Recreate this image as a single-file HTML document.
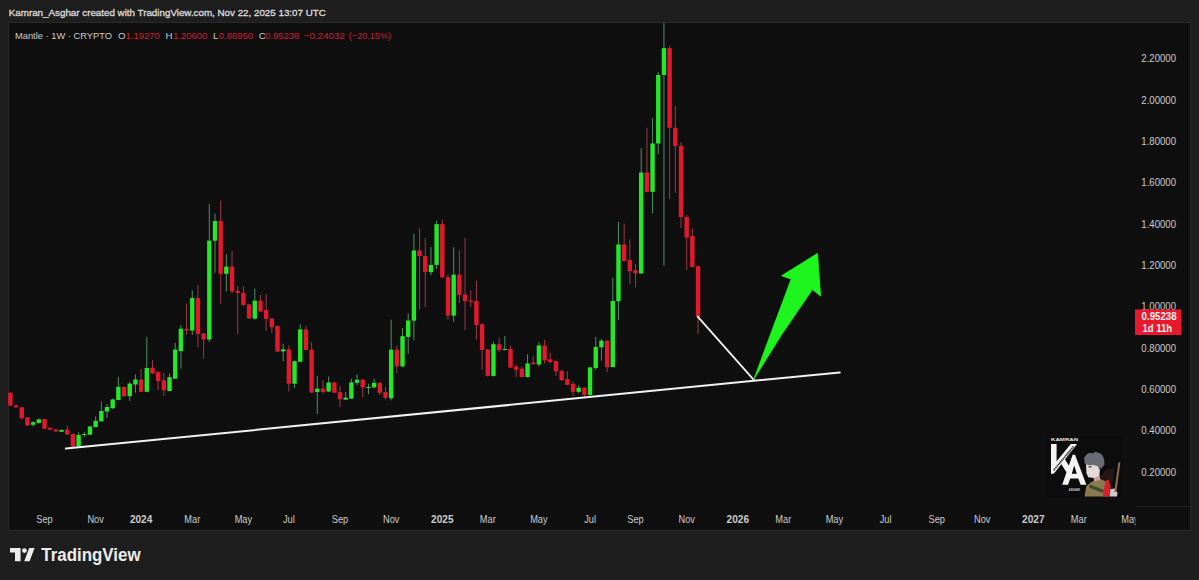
<!DOCTYPE html>
<html><head><meta charset="utf-8"><style>
html,body{margin:0;padding:0;background:#1e1e1e;width:1199px;height:580px;overflow:hidden}
svg{display:block;font-family:"Liberation Sans",sans-serif}
</style></head><body>
<svg width="1199" height="580" viewBox="0 0 1199 580">
<rect x="0" y="0" width="1199" height="580" fill="#1e1e1e"/>
<text x="8.8" y="16.4" font-size="9.6" fill="#dedede" stroke="#dedede" stroke-width="0.3" textLength="317" lengthAdjust="spacingAndGlyphs">Kamran_Asghar created with TradingView.com, Nov 22, 2025 13:07 UTC</text>
<rect x="8.5" y="22.5" width="1182" height="508" fill="#0f0f0f" stroke="#2a2a2a" stroke-width="1"/>
<g id="legend" font-size="9.6">
<text x="15" y="38.7" fill="#cdcdcd" textLength="96.9" lengthAdjust="spacingAndGlyphs">Mantle · 1W · CRYPTO</text>
<text x="118.1" y="38.7" fill="#cdcdcd">O</text>
<text x="125.6" y="38.7" fill="#cc1f35" textLength="34.2" lengthAdjust="spacingAndGlyphs">1.19270</text>
<text x="165.6" y="38.7" fill="#cdcdcd">H</text>
<text x="173.1" y="38.7" fill="#cc1f35" textLength="34.2" lengthAdjust="spacingAndGlyphs">1.20600</text>
<text x="213.1" y="38.7" fill="#cdcdcd">L</text>
<text x="218.8" y="38.7" fill="#cc1f35" textLength="34.3" lengthAdjust="spacingAndGlyphs">0.86950</text>
<text x="258.8" y="38.7" fill="#cdcdcd">C</text>
<text x="265" y="38.7" fill="#cc1f35" textLength="34.4" lengthAdjust="spacingAndGlyphs">0.95238</text>
<text x="303.8" y="38.7" fill="#cc1f35" textLength="41.2" lengthAdjust="spacingAndGlyphs">−0.24032</text>
<text x="348.8" y="38.7" fill="#cc1f35" textLength="42.2" lengthAdjust="spacingAndGlyphs">(−20.15%)</text>
</g>
<line x1="1136" y1="506.5" x2="1190" y2="506.5" stroke="#1f1f1f" stroke-width="1"/>
<clipPath id="pclip"><rect x="8" y="23" width="1127.5" height="484"/></clipPath>
<g id="candles" clip-path="url(#pclip)">
<rect x="9.90" y="392.00" width="1" height="14.00" fill="#983a4a"/>
<rect x="8.20" y="392.80" width="4.4" height="12.70" fill="#e2192d"/>
<rect x="15.58" y="404.30" width="1" height="3.70" fill="#983a4a"/>
<rect x="13.88" y="405.50" width="4.4" height="1.80" fill="#e2192d"/>
<rect x="21.27" y="407.00" width="1" height="12.40" fill="#983a4a"/>
<rect x="19.57" y="407.30" width="4.4" height="10.90" fill="#e2192d"/>
<rect x="26.95" y="417.00" width="1" height="9.00" fill="#983a4a"/>
<rect x="25.25" y="417.30" width="4.4" height="8.10" fill="#e2192d"/>
<rect x="32.63" y="421.20" width="1" height="5.40" fill="#4c9068"/>
<rect x="30.93" y="422.20" width="4.4" height="2.60" fill="#26e62a"/>
<rect x="38.31" y="418.20" width="1" height="5.60" fill="#4c9068"/>
<rect x="36.61" y="419.40" width="4.4" height="3.60" fill="#26e62a"/>
<rect x="44.00" y="419.00" width="1" height="10.00" fill="#983a4a"/>
<rect x="42.30" y="419.10" width="4.4" height="9.60" fill="#e2192d"/>
<rect x="49.68" y="427.50" width="1" height="2.50" fill="#983a4a"/>
<rect x="47.98" y="427.80" width="4.4" height="1.80" fill="#e2192d"/>
<rect x="55.36" y="429.00" width="1" height="3.00" fill="#983a4a"/>
<rect x="53.66" y="429.40" width="4.4" height="2.00" fill="#e2192d"/>
<rect x="61.05" y="429.50" width="1" height="2.50" fill="#4c9068"/>
<rect x="59.35" y="429.90" width="4.4" height="1.90" fill="#26e62a"/>
<rect x="66.73" y="425.40" width="1" height="9.60" fill="#983a4a"/>
<rect x="65.03" y="429.60" width="4.4" height="4.90" fill="#e2192d"/>
<rect x="72.41" y="433.50" width="1" height="13.50" fill="#983a4a"/>
<rect x="70.71" y="433.90" width="4.4" height="12.60" fill="#e2192d"/>
<rect x="78.10" y="432.30" width="1" height="14.70" fill="#4c9068"/>
<rect x="76.40" y="434.90" width="4.4" height="11.70" fill="#26e62a"/>
<rect x="83.78" y="432.00" width="1" height="5.00" fill="#4c9068"/>
<rect x="82.08" y="434.00" width="4.4" height="1.00" fill="#26e62a"/>
<rect x="89.46" y="425.50" width="1" height="9.70" fill="#4c9068"/>
<rect x="87.76" y="426.50" width="4.4" height="8.20" fill="#26e62a"/>
<rect x="95.15" y="416.40" width="1" height="11.10" fill="#4c9068"/>
<rect x="93.45" y="420.80" width="4.4" height="6.20" fill="#26e62a"/>
<rect x="100.83" y="401.60" width="1" height="19.90" fill="#4c9068"/>
<rect x="99.13" y="411.00" width="4.4" height="10.30" fill="#26e62a"/>
<rect x="106.51" y="404.00" width="1" height="14.00" fill="#4c9068"/>
<rect x="104.81" y="407.00" width="4.4" height="4.50" fill="#26e62a"/>
<rect x="112.19" y="398.40" width="1" height="10.60" fill="#4c9068"/>
<rect x="110.49" y="399.50" width="4.4" height="8.70" fill="#26e62a"/>
<rect x="117.88" y="377.00" width="1" height="23.50" fill="#4c9068"/>
<rect x="116.18" y="386.90" width="4.4" height="13.10" fill="#26e62a"/>
<rect x="123.56" y="386.50" width="1" height="10.50" fill="#983a4a"/>
<rect x="121.86" y="386.90" width="4.4" height="9.30" fill="#e2192d"/>
<rect x="129.24" y="382.00" width="1" height="18.80" fill="#4c9068"/>
<rect x="127.54" y="383.60" width="4.4" height="12.60" fill="#26e62a"/>
<rect x="134.93" y="374.60" width="1" height="18.00" fill="#4c9068"/>
<rect x="133.23" y="379.50" width="4.4" height="5.00" fill="#26e62a"/>
<rect x="140.61" y="368.90" width="1" height="23.10" fill="#983a4a"/>
<rect x="138.91" y="379.50" width="4.4" height="12.30" fill="#e2192d"/>
<rect x="146.29" y="337.00" width="1" height="55.00" fill="#4c9068"/>
<rect x="144.59" y="368.00" width="4.4" height="23.80" fill="#26e62a"/>
<rect x="151.97" y="360.00" width="1" height="14.00" fill="#983a4a"/>
<rect x="150.28" y="367.80" width="4.4" height="5.50" fill="#e2192d"/>
<rect x="157.66" y="371.00" width="1" height="19.00" fill="#983a4a"/>
<rect x="155.96" y="372.20" width="4.4" height="9.00" fill="#e2192d"/>
<rect x="163.34" y="373.00" width="1" height="23.00" fill="#983a4a"/>
<rect x="161.64" y="380.40" width="4.4" height="9.80" fill="#e2192d"/>
<rect x="169.02" y="373.50" width="1" height="18.00" fill="#4c9068"/>
<rect x="167.32" y="377.20" width="4.4" height="13.80" fill="#26e62a"/>
<rect x="174.71" y="342.90" width="1" height="36.10" fill="#4c9068"/>
<rect x="173.01" y="349.60" width="4.4" height="29.10" fill="#26e62a"/>
<rect x="180.39" y="325.00" width="1" height="43.70" fill="#4c9068"/>
<rect x="178.69" y="328.70" width="4.4" height="22.50" fill="#26e62a"/>
<rect x="186.07" y="303.60" width="1" height="31.40" fill="#983a4a"/>
<rect x="184.37" y="329.00" width="4.4" height="1.50" fill="#e2192d"/>
<rect x="191.76" y="290.40" width="1" height="44.60" fill="#4c9068"/>
<rect x="190.06" y="298.00" width="4.4" height="32.50" fill="#26e62a"/>
<rect x="197.44" y="285.00" width="1" height="62.40" fill="#983a4a"/>
<rect x="195.74" y="298.00" width="4.4" height="35.90" fill="#e2192d"/>
<rect x="203.12" y="333.00" width="1" height="25.60" fill="#983a4a"/>
<rect x="201.42" y="333.50" width="4.4" height="6.00" fill="#e2192d"/>
<rect x="208.81" y="204.00" width="1" height="138.00" fill="#4c9068"/>
<rect x="207.11" y="240.70" width="4.4" height="98.80" fill="#26e62a"/>
<rect x="214.49" y="213.80" width="1" height="59.00" fill="#4c9068"/>
<rect x="212.79" y="221.00" width="4.4" height="19.70" fill="#26e62a"/>
<rect x="220.17" y="200.40" width="1" height="103.50" fill="#983a4a"/>
<rect x="218.47" y="221.00" width="4.4" height="52.80" fill="#e2192d"/>
<rect x="225.85" y="254.20" width="1" height="37.20" fill="#4c9068"/>
<rect x="224.15" y="266.60" width="4.4" height="7.20" fill="#26e62a"/>
<rect x="231.54" y="251.00" width="1" height="42.50" fill="#983a4a"/>
<rect x="229.84" y="266.60" width="4.4" height="24.80" fill="#e2192d"/>
<rect x="237.22" y="285.70" width="1" height="48.30" fill="#983a4a"/>
<rect x="235.52" y="290.80" width="4.4" height="2.10" fill="#e2192d"/>
<rect x="242.90" y="286.00" width="1" height="20.00" fill="#983a4a"/>
<rect x="241.20" y="292.90" width="4.4" height="12.00" fill="#e2192d"/>
<rect x="248.59" y="304.00" width="1" height="15.00" fill="#983a4a"/>
<rect x="246.89" y="304.50" width="4.4" height="13.90" fill="#e2192d"/>
<rect x="254.27" y="288.40" width="1" height="31.40" fill="#4c9068"/>
<rect x="252.57" y="300.70" width="4.4" height="17.90" fill="#26e62a"/>
<rect x="259.95" y="295.00" width="1" height="17.00" fill="#983a4a"/>
<rect x="258.25" y="300.70" width="4.4" height="10.80" fill="#e2192d"/>
<rect x="265.63" y="294.00" width="1" height="37.00" fill="#983a4a"/>
<rect x="263.94" y="310.00" width="4.4" height="9.00" fill="#e2192d"/>
<rect x="271.32" y="318.00" width="1" height="15.20" fill="#983a4a"/>
<rect x="269.62" y="318.60" width="4.4" height="8.60" fill="#e2192d"/>
<rect x="277.00" y="325.50" width="1" height="26.50" fill="#983a4a"/>
<rect x="275.30" y="326.00" width="4.4" height="25.60" fill="#e2192d"/>
<rect x="282.68" y="343.70" width="1" height="17.50" fill="#4c9068"/>
<rect x="280.98" y="349.30" width="4.4" height="2.10" fill="#26e62a"/>
<rect x="288.37" y="345.50" width="1" height="46.00" fill="#983a4a"/>
<rect x="286.67" y="349.30" width="4.4" height="34.40" fill="#e2192d"/>
<rect x="294.05" y="360.50" width="1" height="27.50" fill="#4c9068"/>
<rect x="292.35" y="361.20" width="4.4" height="22.50" fill="#26e62a"/>
<rect x="299.73" y="324.20" width="1" height="37.80" fill="#4c9068"/>
<rect x="298.03" y="329.40" width="4.4" height="32.30" fill="#26e62a"/>
<rect x="305.42" y="326.00" width="1" height="24.50" fill="#983a4a"/>
<rect x="303.72" y="329.40" width="4.4" height="20.60" fill="#e2192d"/>
<rect x="311.10" y="342.20" width="1" height="50.80" fill="#983a4a"/>
<rect x="309.40" y="349.60" width="4.4" height="43.00" fill="#e2192d"/>
<rect x="316.78" y="375.80" width="1" height="38.20" fill="#4c9068"/>
<rect x="315.08" y="388.60" width="4.4" height="3.40" fill="#26e62a"/>
<rect x="322.46" y="380.00" width="1" height="13.70" fill="#983a4a"/>
<rect x="320.76" y="388.60" width="4.4" height="3.40" fill="#e2192d"/>
<rect x="328.15" y="376.50" width="1" height="15.50" fill="#4c9068"/>
<rect x="326.45" y="382.50" width="4.4" height="9.00" fill="#26e62a"/>
<rect x="333.83" y="382.00" width="1" height="11.00" fill="#983a4a"/>
<rect x="332.13" y="382.50" width="4.4" height="10.10" fill="#e2192d"/>
<rect x="339.51" y="385.90" width="1" height="21.30" fill="#983a4a"/>
<rect x="337.81" y="392.20" width="4.4" height="7.10" fill="#e2192d"/>
<rect x="345.20" y="392.00" width="1" height="8.00" fill="#4c9068"/>
<rect x="343.50" y="397.70" width="4.4" height="1.90" fill="#26e62a"/>
<rect x="350.88" y="378.70" width="1" height="20.30" fill="#4c9068"/>
<rect x="349.18" y="382.40" width="4.4" height="16.20" fill="#26e62a"/>
<rect x="356.56" y="374.50" width="1" height="10.50" fill="#4c9068"/>
<rect x="354.86" y="379.70" width="4.4" height="3.10" fill="#26e62a"/>
<rect x="362.25" y="379.00" width="1" height="18.30" fill="#983a4a"/>
<rect x="360.55" y="379.70" width="4.4" height="7.70" fill="#e2192d"/>
<rect x="367.93" y="383.80" width="1" height="10.40" fill="#4c9068"/>
<rect x="366.23" y="387.00" width="4.4" height="1.00" fill="#26e62a"/>
<rect x="373.61" y="378.70" width="1" height="9.30" fill="#4c9068"/>
<rect x="371.91" y="382.80" width="4.4" height="4.60" fill="#26e62a"/>
<rect x="379.29" y="382.00" width="1" height="13.20" fill="#983a4a"/>
<rect x="377.59" y="382.80" width="4.4" height="10.00" fill="#e2192d"/>
<rect x="384.98" y="387.00" width="1" height="12.40" fill="#983a4a"/>
<rect x="383.28" y="392.10" width="4.4" height="5.60" fill="#e2192d"/>
<rect x="390.66" y="319.70" width="1" height="80.70" fill="#4c9068"/>
<rect x="388.96" y="349.70" width="4.4" height="48.60" fill="#26e62a"/>
<rect x="396.34" y="345.50" width="1" height="28.00" fill="#983a4a"/>
<rect x="394.64" y="349.70" width="4.4" height="16.60" fill="#e2192d"/>
<rect x="402.03" y="328.00" width="1" height="39.30" fill="#4c9068"/>
<rect x="400.33" y="336.20" width="4.4" height="30.10" fill="#26e62a"/>
<rect x="407.71" y="313.50" width="1" height="40.30" fill="#4c9068"/>
<rect x="406.01" y="320.50" width="4.4" height="16.40" fill="#26e62a"/>
<rect x="413.39" y="233.80" width="1" height="106.60" fill="#4c9068"/>
<rect x="411.69" y="250.40" width="4.4" height="70.30" fill="#26e62a"/>
<rect x="419.08" y="228.20" width="1" height="81.20" fill="#983a4a"/>
<rect x="417.38" y="250.40" width="4.4" height="5.60" fill="#e2192d"/>
<rect x="424.76" y="238.00" width="1" height="69.30" fill="#983a4a"/>
<rect x="423.06" y="256.00" width="4.4" height="16.10" fill="#e2192d"/>
<rect x="430.44" y="246.90" width="1" height="28.30" fill="#4c9068"/>
<rect x="428.74" y="264.90" width="4.4" height="7.20" fill="#26e62a"/>
<rect x="436.12" y="220.40" width="1" height="48.60" fill="#4c9068"/>
<rect x="434.42" y="224.10" width="4.4" height="40.80" fill="#26e62a"/>
<rect x="441.81" y="219.30" width="1" height="58.70" fill="#983a4a"/>
<rect x="440.11" y="224.10" width="4.4" height="53.20" fill="#e2192d"/>
<rect x="447.49" y="274.20" width="1" height="45.50" fill="#983a4a"/>
<rect x="445.79" y="277.30" width="4.4" height="38.30" fill="#e2192d"/>
<rect x="453.17" y="247.30" width="1" height="74.50" fill="#4c9068"/>
<rect x="451.47" y="274.60" width="4.4" height="41.00" fill="#26e62a"/>
<rect x="458.86" y="250.40" width="1" height="52.80" fill="#983a4a"/>
<rect x="457.16" y="274.60" width="4.4" height="20.30" fill="#e2192d"/>
<rect x="464.54" y="238.00" width="1" height="92.00" fill="#983a4a"/>
<rect x="462.84" y="294.50" width="4.4" height="6.60" fill="#e2192d"/>
<rect x="470.22" y="290.70" width="1" height="16.60" fill="#983a4a"/>
<rect x="468.52" y="300.50" width="4.4" height="1.20" fill="#e2192d"/>
<rect x="475.91" y="280.40" width="1" height="59.30" fill="#983a4a"/>
<rect x="474.21" y="301.10" width="4.4" height="23.90" fill="#e2192d"/>
<rect x="481.59" y="323.50" width="1" height="46.20" fill="#983a4a"/>
<rect x="479.89" y="324.20" width="4.4" height="25.80" fill="#e2192d"/>
<rect x="487.27" y="349.00" width="1" height="27.50" fill="#983a4a"/>
<rect x="485.57" y="349.60" width="4.4" height="26.30" fill="#e2192d"/>
<rect x="492.95" y="341.80" width="1" height="34.70" fill="#4c9068"/>
<rect x="491.25" y="344.20" width="4.4" height="31.70" fill="#26e62a"/>
<rect x="498.64" y="337.60" width="1" height="14.40" fill="#983a4a"/>
<rect x="496.94" y="344.20" width="4.4" height="5.80" fill="#e2192d"/>
<rect x="504.32" y="336.00" width="1" height="14.50" fill="#4c9068"/>
<rect x="502.62" y="349.00" width="4.4" height="1.00" fill="#26e62a"/>
<rect x="510.00" y="345.90" width="1" height="22.10" fill="#983a4a"/>
<rect x="508.30" y="349.00" width="4.4" height="18.60" fill="#e2192d"/>
<rect x="515.69" y="364.50" width="1" height="12.50" fill="#983a4a"/>
<rect x="513.99" y="366.60" width="4.4" height="3.10" fill="#e2192d"/>
<rect x="521.37" y="366.60" width="1" height="10.90" fill="#983a4a"/>
<rect x="519.67" y="368.70" width="4.4" height="8.30" fill="#e2192d"/>
<rect x="527.05" y="354.20" width="1" height="23.30" fill="#4c9068"/>
<rect x="525.35" y="363.50" width="4.4" height="13.50" fill="#26e62a"/>
<rect x="532.74" y="356.30" width="1" height="8.20" fill="#983a4a"/>
<rect x="531.04" y="362.50" width="4.4" height="1.60" fill="#e2192d"/>
<rect x="538.42" y="342.20" width="1" height="24.40" fill="#4c9068"/>
<rect x="536.72" y="345.50" width="4.4" height="19.00" fill="#26e62a"/>
<rect x="544.10" y="339.70" width="1" height="23.80" fill="#983a4a"/>
<rect x="542.40" y="345.50" width="4.4" height="14.90" fill="#e2192d"/>
<rect x="549.78" y="353.10" width="1" height="10.40" fill="#983a4a"/>
<rect x="548.08" y="359.40" width="4.4" height="2.60" fill="#e2192d"/>
<rect x="555.47" y="360.50" width="1" height="15.40" fill="#983a4a"/>
<rect x="553.77" y="361.00" width="4.4" height="10.40" fill="#e2192d"/>
<rect x="561.15" y="369.70" width="1" height="11.00" fill="#983a4a"/>
<rect x="559.45" y="370.80" width="4.4" height="9.40" fill="#e2192d"/>
<rect x="566.83" y="371.40" width="1" height="13.90" fill="#983a4a"/>
<rect x="565.13" y="379.00" width="4.4" height="5.90" fill="#e2192d"/>
<rect x="572.52" y="381.40" width="1" height="14.50" fill="#983a4a"/>
<rect x="570.82" y="383.90" width="4.4" height="7.90" fill="#e2192d"/>
<rect x="578.20" y="385.20" width="1" height="8.30" fill="#4c9068"/>
<rect x="576.50" y="387.70" width="4.4" height="4.10" fill="#26e62a"/>
<rect x="583.88" y="387.20" width="1" height="10.40" fill="#983a4a"/>
<rect x="582.18" y="387.70" width="4.4" height="7.20" fill="#e2192d"/>
<rect x="589.57" y="367.00" width="1" height="28.90" fill="#4c9068"/>
<rect x="587.87" y="367.40" width="4.4" height="27.50" fill="#26e62a"/>
<rect x="595.25" y="336.90" width="1" height="33.10" fill="#4c9068"/>
<rect x="593.55" y="346.90" width="4.4" height="21.10" fill="#26e62a"/>
<rect x="600.93" y="339.00" width="1" height="21.70" fill="#4c9068"/>
<rect x="599.23" y="340.70" width="4.4" height="6.60" fill="#26e62a"/>
<rect x="606.62" y="340.20" width="1" height="31.90" fill="#983a4a"/>
<rect x="604.91" y="340.70" width="4.4" height="26.30" fill="#e2192d"/>
<rect x="612.30" y="278.00" width="1" height="89.50" fill="#4c9068"/>
<rect x="610.60" y="301.00" width="4.4" height="66.00" fill="#26e62a"/>
<rect x="617.98" y="222.00" width="1" height="98.00" fill="#4c9068"/>
<rect x="616.28" y="244.50" width="4.4" height="56.80" fill="#26e62a"/>
<rect x="623.66" y="223.70" width="1" height="37.80" fill="#983a4a"/>
<rect x="621.96" y="244.50" width="4.4" height="16.50" fill="#e2192d"/>
<rect x="629.35" y="239.20" width="1" height="45.00" fill="#983a4a"/>
<rect x="627.65" y="260.00" width="4.4" height="11.20" fill="#e2192d"/>
<rect x="635.03" y="264.00" width="1" height="23.30" fill="#983a4a"/>
<rect x="633.33" y="270.20" width="4.4" height="3.20" fill="#e2192d"/>
<rect x="640.71" y="148.30" width="1" height="125.70" fill="#4c9068"/>
<rect x="639.01" y="172.50" width="4.4" height="100.90" fill="#26e62a"/>
<rect x="646.40" y="127.80" width="1" height="64.50" fill="#983a4a"/>
<rect x="644.70" y="172.50" width="4.4" height="19.30" fill="#e2192d"/>
<rect x="652.08" y="118.00" width="1" height="95.50" fill="#4c9068"/>
<rect x="650.38" y="143.50" width="4.4" height="48.30" fill="#26e62a"/>
<rect x="657.76" y="72.00" width="1" height="82.30" fill="#4c9068"/>
<rect x="656.06" y="75.00" width="4.4" height="68.50" fill="#26e62a"/>
<rect x="663.44" y="22.50" width="1" height="243.10" fill="#4c9068"/>
<rect x="661.74" y="48.10" width="4.4" height="26.90" fill="#26e62a"/>
<rect x="669.13" y="46.00" width="1" height="153.00" fill="#983a4a"/>
<rect x="667.43" y="48.10" width="4.4" height="79.70" fill="#e2192d"/>
<rect x="674.81" y="106.00" width="1" height="86.60" fill="#983a4a"/>
<rect x="673.11" y="127.80" width="4.4" height="18.10" fill="#e2192d"/>
<rect x="680.49" y="142.30" width="1" height="85.70" fill="#983a4a"/>
<rect x="678.79" y="145.90" width="4.4" height="71.20" fill="#e2192d"/>
<rect x="686.18" y="215.00" width="1" height="55.20" fill="#983a4a"/>
<rect x="684.48" y="217.10" width="4.4" height="20.60" fill="#e2192d"/>
<rect x="691.86" y="228.30" width="1" height="39.20" fill="#983a4a"/>
<rect x="690.16" y="236.00" width="4.4" height="31.00" fill="#e2192d"/>
<rect x="697.54" y="265.80" width="1" height="68.20" fill="#983a4a"/>
<rect x="695.84" y="266.20" width="4.4" height="50.60" fill="#e2192d"/>
</g>
<g id="lines" stroke="#f2f2f2" stroke-width="2" stroke-linecap="round" fill="none">
<line x1="65.9" y1="448.6" x2="839.8" y2="372.4"/>
<line x1="697.7" y1="316.7" x2="754" y2="380.1" stroke-width="1.8"/>
</g>
<path id="arrow" fill="#1ef51e" stroke="#1ef51e" stroke-width="0.8" stroke-linejoin="round" d="M754 378.9 L771 333 L791.2 279.1 L781.6 275.8 L817.5 253.4 L820.6 296 L812.4 289.5 L782 334 Z"/>
<g id="kalogo">
<rect x="1047" y="436" width="75" height="61" fill="#0c0c0c"/>
<text x="1064.6" y="441" font-size="3.6" font-weight="700" fill="#e6e6e6" text-anchor="middle" textLength="27" lengthAdjust="spacingAndGlyphs">KAMRAN</text>
<polygon fill="#f4f4f4" points="1051,444.1 1056.6,444.1 1056.6,466 1051,474"/>
<polygon fill="#f4f4f4" points="1070.8,444.1 1077,444.1 1054,473.5 1051,474 1051,468"/>
<polygon fill="#f4f4f4" points="1060.5,463 1064.5,458.5 1070,467.5 1067,473"/>
<polygon fill="#f4f4f4" points="1072.6,454.7 1075,454.7 1086.4,484.8 1080.6,484.8 1078.3,478.5 1070.3,478.5 1068,484.8 1062.2,484.8"/>
<polygon fill="#050505" points="1074.2,465.5 1071.8,473.8 1076.8,473.8"/>
<line x1="1073.5" y1="446.5" x2="1053.5" y2="470.5" stroke="#2a2a2a" stroke-width="1.6" stroke-dasharray="1.4 0.5"/>
<text x="1074.3" y="491.2" font-size="3" font-weight="700" fill="#d8d8d8" text-anchor="middle" textLength="11" lengthAdjust="spacingAndGlyphs">ASGHAR</text>
<path fill="#261818" d="M1100 478 L1106 470 L1114 468 L1113 482 Z"/>
<path fill="#8a7a52" d="M1084.5 496.5 L1086.4 486 L1092 481.4 L1101.3 479.3 L1106 481.4 L1108.7 496.5 Z"/>
<path fill="#3e4a2e" d="M1090 484.5 L1104 490 L1103 493 L1089 487.5 Z"/>
<path fill="#d81e2e" d="M1102.8 496.5 L1105.6 480.5 L1108.6 479.8 L1110.8 486 L1109.6 496.5 Z"/>
<path fill="#cfc8cc" d="M1109.6 496.5 L1110.5 489 L1115 488.5 L1117.5 493 L1117 496.5 Z"/>
<line x1="1115.3" y1="492" x2="1119.4" y2="462.3" stroke="#8c6a52" stroke-width="2"/>
<path fill="#c4a496" d="M1093.5 474 L1099 472 L1100.5 480 L1094 481.5 Z"/>
<path fill="#e6d9d9" d="M1086 463.7 L1097.5 464.6 L1100 470.2 L1099 475.8 L1094.3 478.1 L1088.2 477.2 L1086.4 473 Z"/>
<path fill="#2e2e34" d="M1088.5 466.5 L1091.5 466 L1091.5 467.3 L1088.5 467.6 Z"/>
<path fill="#6a6a74" d="M1084 458 L1087 454 L1090 452.8 L1093 453.5 L1095 451.8 L1098 452.6 L1102 454.5 L1104 459 L1104.6 464.6 L1101 469 L1097.5 466 L1093 465 L1089 465.2 L1085 464 Z"/>
</g>
<clipPath id="tclip"><rect x="9" y="507" width="1126.5" height="23"/></clipPath>
<g id="timeaxis" fill="#cdcdcd" clip-path="url(#tclip)">
<text x="44.5" y="522.6" text-anchor="middle" font-size="10.5" textLength="16.4" lengthAdjust="spacingAndGlyphs">Sep</text>
<text x="95.6" y="522.6" text-anchor="middle" font-size="10.5" textLength="16.4" lengthAdjust="spacingAndGlyphs">Nov</text>
<text x="141.1" y="522.6" text-anchor="middle" font-weight="700" font-size="10.5" textLength="22.4" lengthAdjust="spacingAndGlyphs">2024</text>
<text x="192.3" y="522.6" text-anchor="middle" font-size="10.5" textLength="15.9" lengthAdjust="spacingAndGlyphs">Mar</text>
<text x="243.4" y="522.6" text-anchor="middle" font-size="10.5" textLength="17.5" lengthAdjust="spacingAndGlyphs">May</text>
<text x="288.9" y="522.6" text-anchor="middle" font-size="10.5" textLength="11.8" lengthAdjust="spacingAndGlyphs">Jul</text>
<text x="340.0" y="522.6" text-anchor="middle" font-size="10.5" textLength="16.4" lengthAdjust="spacingAndGlyphs">Sep</text>
<text x="391.2" y="522.6" text-anchor="middle" font-size="10.5" textLength="16.4" lengthAdjust="spacingAndGlyphs">Nov</text>
<text x="442.3" y="522.6" text-anchor="middle" font-weight="700" font-size="10.5" textLength="22.4" lengthAdjust="spacingAndGlyphs">2025</text>
<text x="487.8" y="522.6" text-anchor="middle" font-size="10.5" textLength="15.9" lengthAdjust="spacingAndGlyphs">Mar</text>
<text x="538.9" y="522.6" text-anchor="middle" font-size="10.5" textLength="17.5" lengthAdjust="spacingAndGlyphs">May</text>
<text x="590.1" y="522.6" text-anchor="middle" font-size="10.5" textLength="11.8" lengthAdjust="spacingAndGlyphs">Jul</text>
<text x="635.5" y="522.6" text-anchor="middle" font-size="10.5" textLength="16.4" lengthAdjust="spacingAndGlyphs">Sep</text>
<text x="686.7" y="522.6" text-anchor="middle" font-size="10.5" textLength="16.4" lengthAdjust="spacingAndGlyphs">Nov</text>
<text x="737.8" y="522.6" text-anchor="middle" font-weight="700" font-size="10.5" textLength="22.4" lengthAdjust="spacingAndGlyphs">2026</text>
<text x="783.3" y="522.6" text-anchor="middle" font-size="10.5" textLength="15.9" lengthAdjust="spacingAndGlyphs">Mar</text>
<text x="834.4" y="522.6" text-anchor="middle" font-size="10.5" textLength="17.5" lengthAdjust="spacingAndGlyphs">May</text>
<text x="885.6" y="522.6" text-anchor="middle" font-size="10.5" textLength="11.8" lengthAdjust="spacingAndGlyphs">Jul</text>
<text x="936.7" y="522.6" text-anchor="middle" font-size="10.5" textLength="16.4" lengthAdjust="spacingAndGlyphs">Sep</text>
<text x="982.2" y="522.6" text-anchor="middle" font-size="10.5" textLength="16.4" lengthAdjust="spacingAndGlyphs">Nov</text>
<text x="1033.3" y="522.6" text-anchor="middle" font-weight="700" font-size="10.5" textLength="22.4" lengthAdjust="spacingAndGlyphs">2027</text>
<text x="1078.8" y="522.6" text-anchor="middle" font-size="10.5" textLength="15.9" lengthAdjust="spacingAndGlyphs">Mar</text>
<text x="1130.0" y="522.6" text-anchor="middle" font-size="10.5" textLength="17.5" lengthAdjust="spacingAndGlyphs">May</text>
</g>
<g id="priceaxis" fill="#cdcdcd">
<text x="1176" y="475.8" text-anchor="end" font-size="11" textLength="34.7" lengthAdjust="spacingAndGlyphs">0.20000</text>
<text x="1176" y="434.4" text-anchor="end" font-size="11" textLength="34.7" lengthAdjust="spacingAndGlyphs">0.40000</text>
<text x="1176" y="393.1" text-anchor="end" font-size="11" textLength="34.7" lengthAdjust="spacingAndGlyphs">0.60000</text>
<text x="1176" y="351.7" text-anchor="end" font-size="11" textLength="34.7" lengthAdjust="spacingAndGlyphs">0.80000</text>
<text x="1176" y="310.3" text-anchor="end" font-size="11" textLength="34.7" lengthAdjust="spacingAndGlyphs">1.00000</text>
<text x="1176" y="268.9" text-anchor="end" font-size="11" textLength="34.7" lengthAdjust="spacingAndGlyphs">1.20000</text>
<text x="1176" y="227.6" text-anchor="end" font-size="11" textLength="34.7" lengthAdjust="spacingAndGlyphs">1.40000</text>
<text x="1176" y="186.2" text-anchor="end" font-size="11" textLength="34.7" lengthAdjust="spacingAndGlyphs">1.60000</text>
<text x="1176" y="144.8" text-anchor="end" font-size="11" textLength="34.7" lengthAdjust="spacingAndGlyphs">1.80000</text>
<text x="1176" y="103.5" text-anchor="end" font-size="11" textLength="34.7" lengthAdjust="spacingAndGlyphs">2.00000</text>
<text x="1176" y="62.1" text-anchor="end" font-size="11" textLength="34.7" lengthAdjust="spacingAndGlyphs">2.20000</text>
</g>
<rect x="1135" y="309.5" width="46.4" height="25.5" fill="#e8192c"/>
<text x="1141.6" y="320" font-size="10.2" font-weight="700" fill="#fff2f2" textLength="35" lengthAdjust="spacingAndGlyphs">0.95238</text>
<text x="1142.5" y="332" font-size="10.2" font-weight="700" fill="#fff2f2" textLength="29.5" lengthAdjust="spacingAndGlyphs">1d 11h</text>
<g id="tvlogo" fill="#ececec">
<path d="M10 548.1 H20.6 V561.3 H15 V552.6 H10 Z"/>
<circle cx="24.4" cy="550.6" r="2.4"/>
<path d="M24.2 561.3 L29.2 548.1 H34.6 L29.6 561.3 Z"/>
<text x="41.3" y="561" font-size="18" font-weight="700" textLength="99.3" lengthAdjust="spacingAndGlyphs">TradingView</text>
</g>
</svg>
</body></html>
